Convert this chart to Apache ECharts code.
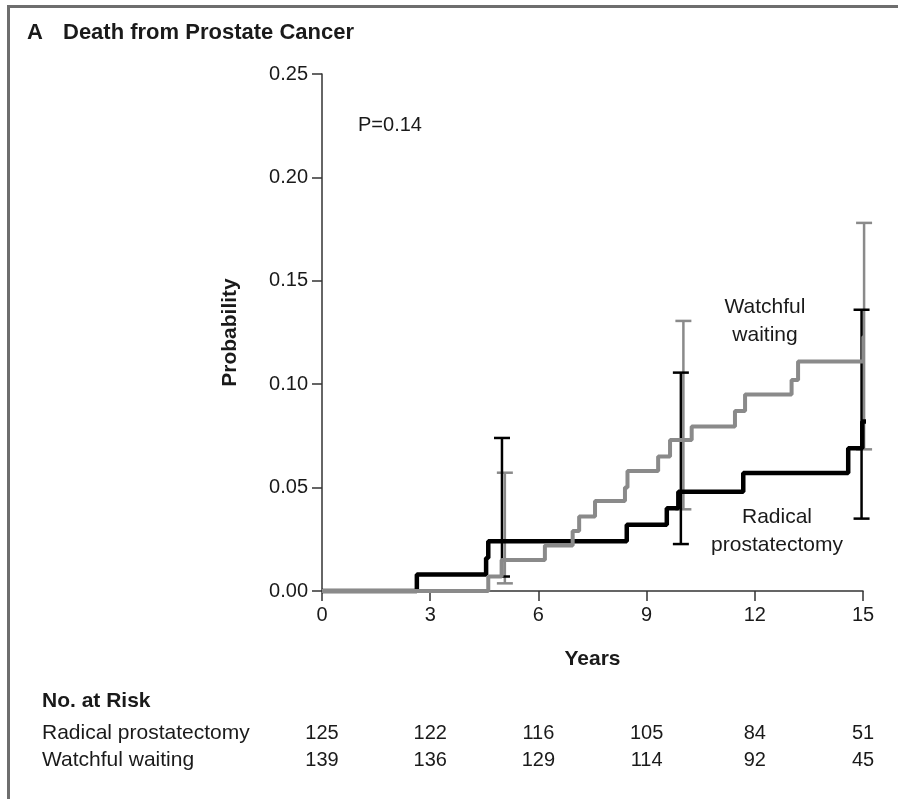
<!DOCTYPE html>
<html>
<head>
<meta charset="utf-8">
<script src="https://cdn.jsdelivr.net/npm/echarts@6/dist/echarts.min.js"></script>
<style>
  html, body { margin: 0; padding: 0; background: #fff; }
  #chart { width: 898px; height: 799px; }
</style>
</head>
<body>
<div id="chart"></div>
<script>
// ---- data ----
const yearTicks = [0, 3, 6, 9, 12, 15];
const riskRP = [125, 122, 116, 105, 84, 51];
const riskWW = [139, 136, 129, 114, 92, 45];
const groups = ['Radical prostatectomy', 'Watchful waiting'];

// Kaplan-Meier style step curves (time in years, cumulative probability)
const rpTimes = [0, 2.63, 4.55, 4.61, 8.45, 9.56, 9.88, 11.68, 14.59, 14.98, 15.19];
const rpProb  = [0, 0.008, 0.016, 0.024, 0.032, 0.040, 0.048, 0.057, 0.069, 0.082, 0.082];
const wwTimes = [0, 4.61, 4.98, 6.18, 6.95, 7.13, 7.57, 8.40, 8.47, 9.32, 9.65, 10.25, 11.45, 11.73, 13.02, 13.20, 15.01, 15.21];
const wwProb  = [0, 0.007, 0.015, 0.022, 0.029, 0.036, 0.0435, 0.050, 0.058, 0.065, 0.073, 0.0795, 0.087, 0.095, 0.102, 0.111, 0.123, 0.123];

// confidence intervals
const rpCiTimes = [4.99, 9.95, 14.96];
const rpCiLow   = [0.007, 0.0227, 0.035];
const rpCiHigh  = [0.074, 0.1056, 0.136];
const wwCiTimes = [5.07, 10.02, 15.03];
const wwCiLow   = [0.0037, 0.0395, 0.0685];
const wwCiHigh  = [0.0572, 0.1306, 0.178];

const pValueText = 'P=0.14';

// ---- chart ----
const FONT = "'Liberation Sans', Arial, sans-serif";
const TXT = '#1a1a1a';
const BLACK = '#000000';
const GRAY = '#8a8a8a';

const pairs = (xs, ys) => xs.map((x, i) => [x, ys[i]]);
const ciData = (xs, lo, hi) => xs.map((x, i) => [x, lo[i], hi[i]]);

function errorBarRenderer(color, width) {
  return function (params, api) {
    const x = api.value(0);
    const lo = api.coord([x, api.value(1)]);
    const hi = api.coord([x, api.value(2)]);
    const cap = 8;
    const style = { stroke: color, lineWidth: width };
    return {
      type: 'group',
      children: [
        { type: 'line', shape: { x1: lo[0], y1: lo[1], x2: hi[0], y2: hi[1] }, style },
        { type: 'line', shape: { x1: hi[0] - cap, y1: hi[1], x2: hi[0] + cap, y2: hi[1] }, style },
        { type: 'line', shape: { x1: lo[0] - cap, y1: lo[1], x2: lo[0] + cap, y2: lo[1] }, style }
      ]
    };
  };
}

const riskData = [];
yearTicks.forEach((t, i) => {
  riskData.push([t, 0, riskRP[i]]);
  riskData.push([t, 1, riskWW[i]]);
});

const chart = echarts.init(document.getElementById('chart'), null, { renderer: 'canvas' });

chart.setOption({
  animation: false,
  backgroundColor: '#ffffff',
  textStyle: { fontFamily: FONT },
  title: {
    text: '{a|A}{b|Death from Prostate Cancer}',
    left: 27,
    top: 22,
    padding: 0,
    textStyle: {
      rich: {
        a: { fontFamily: FONT, fontSize: 22, fontWeight: 'bold', color: TXT, width: 36 },
        b: { fontFamily: FONT, fontSize: 22, fontWeight: 'bold', color: TXT }
      }
    }
  },
  grid: [
    { left: 322, right: 35, top: 74, bottom: 208 },
    { left: 322, right: 35, top: 720, height: 54 }
  ],
  xAxis: [
    {
      type: 'value', gridIndex: 0, min: 0, max: 15, interval: 3,
      name: 'Years', nameLocation: 'middle', nameGap: 58,
      nameTextStyle: { fontFamily: FONT, fontSize: 21, fontWeight: 'bold', color: TXT },
      splitLine: { show: false },
      axisLine: { show: true, lineStyle: { color: '#333', width: 1.5 } },
      axisTick: { show: true, length: 10, lineStyle: { color: '#333', width: 1.5 } },
      axisLabel: { fontFamily: FONT, fontSize: 20, color: TXT, margin: 14 }
    },
    {
      type: 'value', gridIndex: 1, min: 0, max: 15, show: false
    }
  ],
  yAxis: [
    {
      type: 'value', gridIndex: 0, min: 0, max: 0.25, interval: 0.05,
      name: 'Probability', nameLocation: 'middle', nameGap: 81, nameRotate: 90,
      nameTextStyle: { fontFamily: FONT, fontSize: 21, fontWeight: 'bold', color: TXT },
      splitLine: { show: false },
      axisLine: { show: true, lineStyle: { color: '#333', width: 1.5 } },
      axisTick: { show: true, length: 10, lineStyle: { color: '#333', width: 1.5 } },
      axisLabel: { fontFamily: FONT, fontSize: 20, color: TXT, margin: 14,
        formatter: v => v.toFixed(2) }
    },
    {
      type: 'category', gridIndex: 1, inverse: true, data: groups,
      axisLine: { show: false }, axisTick: { show: false }, splitLine: { show: false },
      axisLabel: { fontFamily: FONT, fontSize: 21, color: TXT, align: 'left', margin: 280,
        interval: 0, hideOverlap: false }
    }
  ],
  graphic: [
    {
      type: 'polyline', silent: true,
      shape: { points: [[8.5, 799], [8.5, 6.5], [898, 6.5]] },
      style: { stroke: '#6e6e6e', lineWidth: 3, fill: null }
    },
    {
      type: 'text', left: 42, top: 691,
      style: { text: 'No. at Risk', font: "bold 21px " + FONT, fill: TXT }
    },
    {
      type: 'text', x: 358, y: 125,
      style: { text: pValueText, font: "20px " + FONT, fill: TXT, align: 'left', verticalAlign: 'middle' }
    },
    {
      type: 'text', x: 765, y: 321,
      style: { text: 'Watchful\nwaiting', font: "21px " + FONT, fill: TXT, align: 'center',
        verticalAlign: 'middle', lineHeight: 28 }
    },
    {
      type: 'text', x: 777, y: 531,
      style: { text: 'Radical\nprostatectomy', font: "21px " + FONT, fill: TXT, align: 'center',
        verticalAlign: 'middle', lineHeight: 28 }
    }
  ],
  series: [
    {
      name: 'Watchful waiting CI', type: 'custom', xAxisIndex: 0, yAxisIndex: 0,
      clip: false, z: 2,
      renderItem: errorBarRenderer(GRAY, 2.5),
      data: ciData(wwCiTimes, wwCiLow, wwCiHigh)
    },
    {
      name: 'Radical prostatectomy', type: 'line', step: 'end', symbol: 'none',
      clip: false, z: 3,
      lineStyle: { color: BLACK, width: 4.5 },
      data: pairs(rpTimes, rpProb)
    },
    {
      name: 'Radical prostatectomy CI', type: 'custom', xAxisIndex: 0, yAxisIndex: 0,
      clip: false, z: 4,
      renderItem: errorBarRenderer(BLACK, 2.5),
      data: ciData(rpCiTimes, rpCiLow, rpCiHigh)
    },
    {
      name: 'Watchful waiting', type: 'line', step: 'end', symbol: 'none',
      clip: false, z: 5,
      lineStyle: { color: GRAY, width: 4 },
      data: pairs(wwTimes, wwProb)
    },
    {
      name: 'No. at risk', type: 'custom', xAxisIndex: 1, yAxisIndex: 1,
      clip: false,
      renderItem: function (params, api) {
        const p = api.coord([api.value(0), api.value(1)]);
        return {
          type: 'text',
          x: p[0], y: p[1],
          style: { text: String(api.value(2)), font: "20px " + FONT, fill: TXT,
            align: 'center', verticalAlign: 'middle' }
        };
      },
      data: riskData
    }
  ]
});
</script>
</body>
</html>
